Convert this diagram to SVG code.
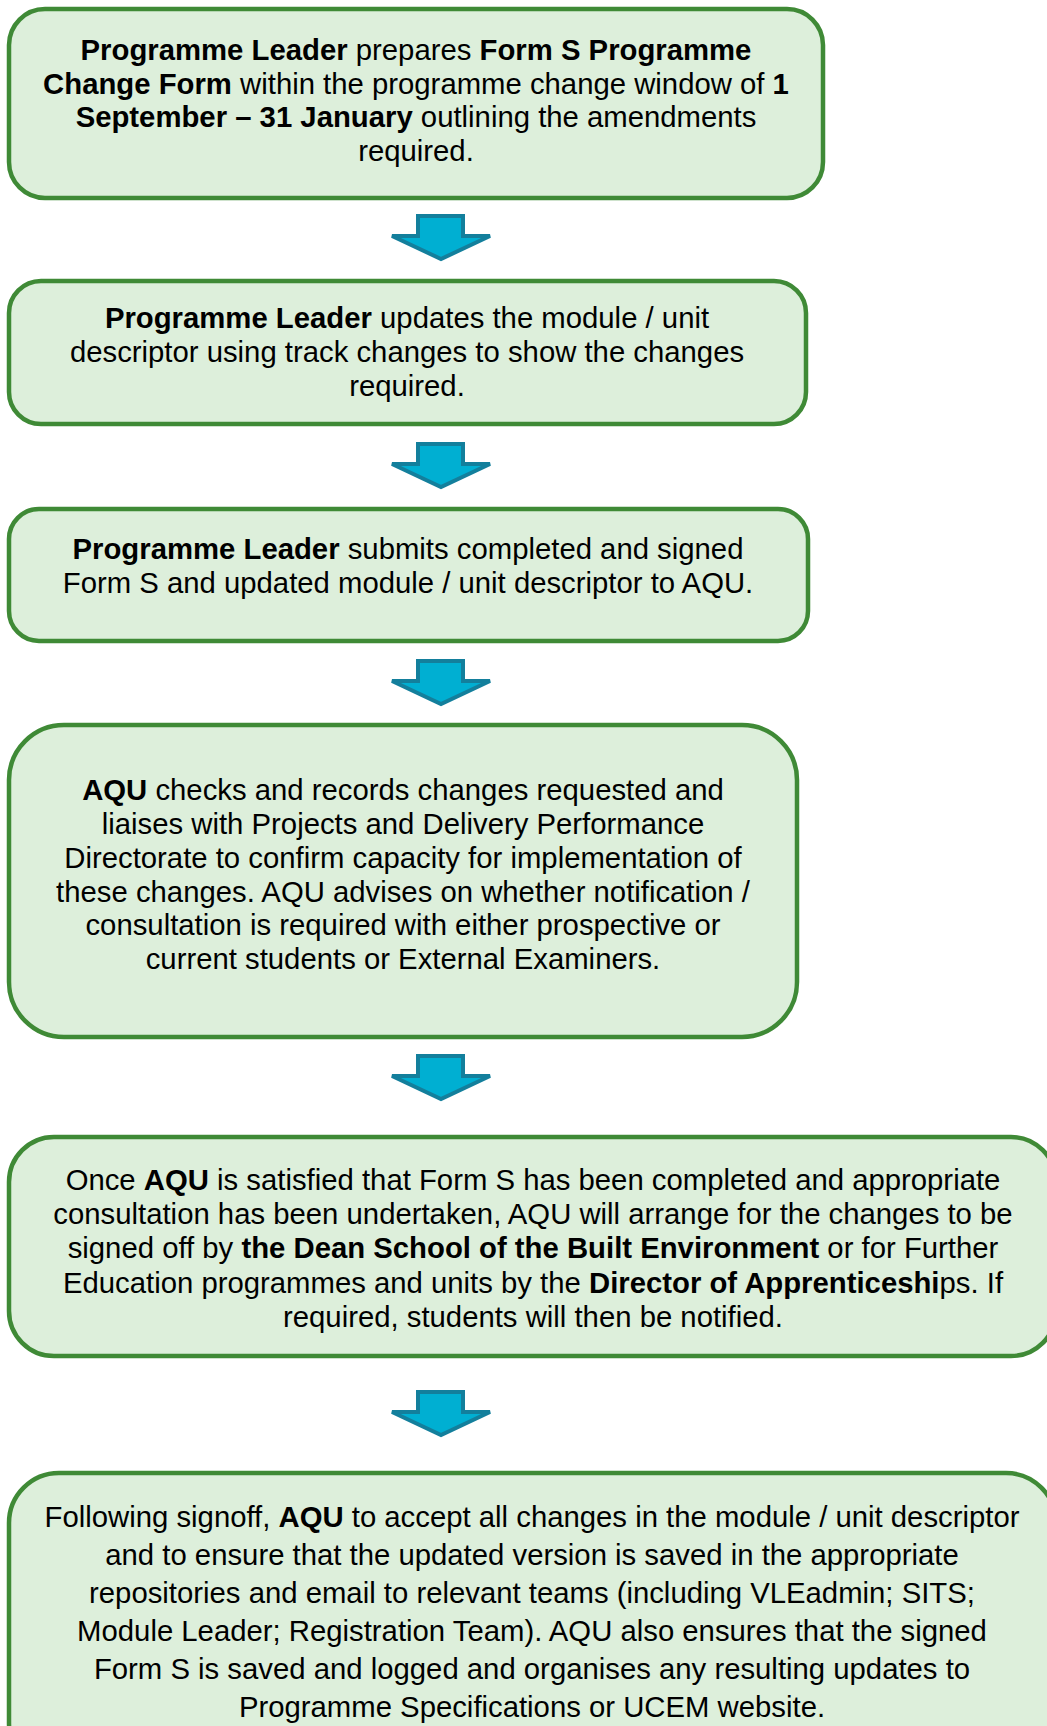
<svg xmlns="http://www.w3.org/2000/svg" width="1047" height="1726" viewBox="0 0 1047 1726">
<style>
.box{fill:#DDEFDB;stroke:#3F8A36;stroke-width:4.5}
.arr{fill:#00AFD2;stroke:#137F9C;stroke-width:4;stroke-linejoin:miter}
text{font-family:"Liberation Sans",Arial,sans-serif;font-size:29.3px;fill:#000;text-anchor:middle}
.b{font-weight:bold}
</style>
<rect width="1047" height="1726" fill="#fff"/>
<g id="connectors">
<path class="arr" d="M418,216 H463 V236 H490 L441,259 L392,236 H418 Z"/>
<path class="arr" d="M418,444 H463 V464 H490 L441,487 L392,464 H418 Z"/>
<path class="arr" d="M418,661 H463 V681 H490 L441,704 L392,681 H418 Z"/>
<path class="arr" d="M418,1056 H463 V1076 H490 L441,1099 L392,1076 H418 Z"/>
<path class="arr" d="M418,1392 H463 V1412 H490 L441,1435 L392,1412 H418 Z"/>
</g>
<g id="node1">
<rect class="box" x="9" y="9" width="814" height="189" rx="36"/>
<text x="416" y="60"><tspan class="b">Programme Leader</tspan> prepares <tspan class="b">Form S Programme</tspan></text>
<text x="416" y="94"><tspan class="b">Change Form</tspan> within the programme change window of <tspan class="b">1</tspan></text>
<text x="416" y="127"><tspan class="b">September – 31 January</tspan> outlining the amendments</text>
<text x="416" y="161">required.</text>
</g>
<g id="node2">
<rect class="box" x="9" y="281" width="797" height="143" rx="32"/>
<text x="407" y="328"><tspan class="b">Programme Leader</tspan> updates the module / unit</text>
<text x="407" y="362">descriptor using track changes to show the changes</text>
<text x="407" y="396">required.</text>
</g>
<g id="node3">
<rect class="box" x="9" y="509" width="799" height="132" rx="30"/>
<text x="408" y="559"><tspan class="b">Programme Leader</tspan> submits completed and signed</text>
<text x="408" y="593">Form S and updated module / unit descriptor to AQU.</text>
</g>
<g id="node4">
<rect class="box" x="9" y="725" width="788" height="312" rx="55"/>
<text x="403" y="800"><tspan class="b">AQU</tspan> checks and records changes requested and</text>
<text x="403" y="834">liaises with Projects and Delivery Performance</text>
<text x="403" y="868">Directorate to confirm capacity for implementation of</text>
<text x="403" y="902">these changes. AQU advises on whether notification /</text>
<text x="403" y="935">consultation is required with either prospective or</text>
<text x="403" y="969">current students or External Examiners.</text>
</g>
<g id="node5">
<rect class="box" x="9" y="1137" width="1047" height="219" rx="45"/>
<text x="533" y="1190">Once <tspan class="b">AQU</tspan> is satisfied that Form S has been completed and appropriate</text>
<text x="533" y="1224">consultation has been undertaken, AQU will arrange for the changes to be</text>
<text x="533" y="1258">signed off by <tspan class="b">the Dean School of the Built Environment</tspan> or for Further</text>
<text x="533" y="1293">Education programmes and units by the <tspan class="b">Director of Apprenticeshi</tspan>ps. If</text>
<text x="533" y="1327">required, students will then be notified.</text>
</g>
<g id="node6">
<rect class="box" x="9" y="1473" width="1047" height="300" rx="50"/>
<text x="532" y="1527">Following signoff, <tspan class="b">AQU</tspan> to accept all changes in the module / unit descriptor</text>
<text x="532" y="1565">and to ensure that the updated version is saved in the appropriate</text>
<text x="532" y="1603">repositories and email to relevant teams (including VLEadmin; SITS;</text>
<text x="532" y="1641">Module Leader; Registration Team). AQU also ensures that the signed</text>
<text x="532" y="1679">Form S is saved and logged and organises any resulting updates to</text>
<text x="532" y="1717">Programme Specifications or UCEM website.</text>
</g>
</svg>
